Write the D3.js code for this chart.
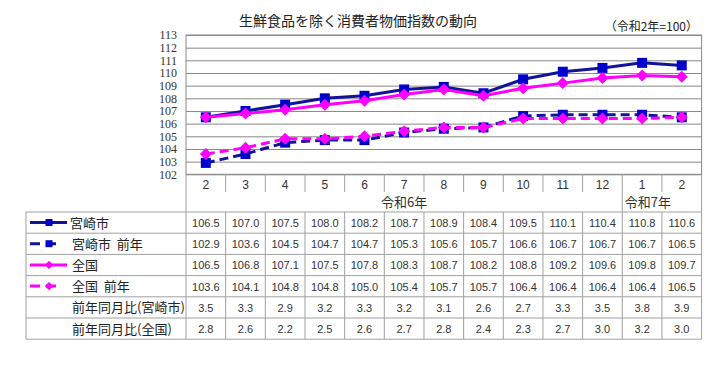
<!DOCTYPE html>
<html>
<head>
<meta charset="utf-8">
<script src="https://cdn.jsdelivr.net/npm/d3@7"></script>
<style>
  body { margin: 0; background: #fff; }
  text { font-family: "Liberation Sans", "Noto Sans CJK JP", sans-serif; fill: #333; }
  .jp { font-family: "Noto Sans CJK JP", sans-serif; }
  .yaxis text { font-family: "Liberation Serif", serif; font-size: 12px; fill: #333; }
</style>
</head>
<body>
<div id="chart"></div>
<script>
// data
const title = '生鮮食品を除く消費者物価指数の動向';
const baseNote = '（令和2年=100）';
const months = ['2', '3', '4', '5', '6', '7', '8', '9', '10', '11', '12', '1', '2'];
const yearLabels = ['令和6年', '令和7年'];
const yearSpans = [11, 2];

const miyazaki = [106.5, 107.0, 107.5, 108.0, 108.2, 108.7, 108.9, 108.4, 109.5, 110.1, 110.4, 110.8, 110.6];
const miyazakiPrev = [102.9, 103.6, 104.5, 104.7, 104.7, 105.3, 105.6, 105.7, 106.6, 106.7, 106.7, 106.7, 106.5];
const zenkoku = [106.5, 106.8, 107.1, 107.5, 107.8, 108.3, 108.7, 108.2, 108.8, 109.2, 109.6, 109.8, 109.7];
const zenkokuPrev = [103.6, 104.1, 104.8, 104.8, 105.0, 105.4, 105.7, 105.7, 106.4, 106.4, 106.4, 106.4, 106.5];
const yoyMiyazaki = [3.5, 3.3, 2.9, 3.2, 3.3, 3.2, 3.1, 2.6, 2.7, 3.3, 3.5, 3.8, 3.9];
const yoyZenkoku = [2.8, 2.6, 2.2, 2.5, 2.6, 2.7, 2.8, 2.4, 2.3, 2.7, 3.0, 3.2, 3.0];

const seriesNames = ['宮崎市', '宮崎市  前年', '全国', '全国  前年'];
const yoyNames = ['前年同月比(宮崎市)', '前年同月比(全国)'];

// layout
const width = 717, height = 365;
const plotLeft = 186, plotRight = 701.6, plotTop = 35, plotBottom = 174.3;
const tableLeft = 26, tableTop = 212, rowH = 21.2;

const BLUE_LINE = '#12129a', BLUE_MARK = '#0000cc', MAGENTA = '#ff00ff';
const GRID = '#888', TABLE_LINE = '#a0a0a0';

const seriesData = [miyazaki, miyazakiPrev, zenkoku, zenkokuPrev];
const seriesStyle = [
  {line: BLUE_LINE, mark: BLUE_MARK, shape: 'square', dash: null},
  {line: BLUE_LINE, mark: BLUE_MARK, shape: 'square', dash: '9,5'},
  {line: MAGENTA, mark: MAGENTA, shape: 'diamond', dash: null},
  {line: MAGENTA, mark: MAGENTA, shape: 'diamond', dash: '9,5'}
];

const x = d3.scaleBand().domain(d3.range(months.length)).range([plotLeft, plotRight]);
const cx = i => x(i) + x.bandwidth() / 2;
const y = d3.scaleLinear().domain([102, 113]).range([plotBottom, plotTop]);

const svg = d3.select('#chart').append('svg')
  .attr('width', width)
  .attr('height', height)
  .style('background', '#fff');

// title
svg.append('text')
  .attr('class', 'jp')
  .attr('x', 358).attr('y', 26)
  .attr('text-anchor', 'middle')
  .style('font-size', '14px')
  .style('fill', '#222')
  .text(title);

svg.append('text')
  .attr('class', 'jp')
  .attr('x', 698).attr('y', 31)
  .attr('text-anchor', 'end')
  .style('font-size', '12px')
  .style('fill', '#222')
  .text(baseNote);

// y axis + gridlines
const yAxis = svg.append('g')
  .attr('class', 'yaxis')
  .attr('transform', `translate(${plotLeft},0)`)
  .call(d3.axisLeft(y).ticks(11).tickFormat(d3.format('d'))
    .tickSizeInner(-(plotRight - plotLeft)).tickSizeOuter(0).tickPadding(9));
yAxis.select('.domain').remove();
yAxis.selectAll('.tick line').attr('stroke', GRID);

// plot frame
svg.append('rect')
  .attr('x', plotLeft).attr('y', plotTop)
  .attr('width', plotRight - plotLeft).attr('height', plotBottom - plotTop)
  .attr('fill', 'none').attr('stroke', GRID);

// lines and markers
function markerPath(shape, s) {
  if (shape === 'square') return `M${-s},${-s}H${s}V${s}H${-s}Z`;
  return `M0,${-s * 1.2}L${s * 1.2},0L0,${s * 1.2}L${-s * 1.2},0Z`;
}

const line = d3.line().x((d, i) => cx(i)).y(d => y(d));
const series = svg.append('g').selectAll('g.series')
  .data(seriesData)
  .join('g')
  .classed('series', true);

series.append('path')
  .attr('d', d => line(d))
  .attr('fill', 'none')
  .attr('stroke', (d, i) => seriesStyle[i].line)
  .attr('stroke-width', 3)
  .attr('stroke-dasharray', (d, i) => seriesStyle[i].dash);

series.each(function (vals, si) {
  d3.select(this).selectAll('path.mark')
    .data(vals)
    .join('path')
    .classed('mark', true)
    .attr('transform', (d, i) => `translate(${cx(i)},${y(d)})`)
    .attr('d', markerPath(seriesStyle[si].shape, 5))
    .attr('fill', seriesStyle[si].mark);
});

// category header under plot
const header = svg.append('g');
header.selectAll('text.month')
  .data(months)
  .join('text')
  .classed('month', true)
  .attr('x', (d, i) => cx(i))
  .attr('y', 189)
  .attr('text-anchor', 'middle')
  .style('font-size', '12px')
  .text(d => d);

const yearStarts = yearSpans.map((s, i) => d3.sum(yearSpans.slice(0, i)));
header.selectAll('line.sep')
  .data(d3.range(1, months.length))
  .join('line')
  .classed('sep', true)
  .attr('x1', i => x(i)).attr('x2', i => x(i))
  .attr('y1', plotBottom)
  .attr('y2', i => yearStarts.includes(i) ? tableTop : 192)
  .attr('stroke', TABLE_LINE);

header.selectAll('text.year')
  .data(yearLabels)
  .join('text')
  .classed('year jp', true)
  .attr('x', (d, i) => {
    const a = x(yearStarts[i]), b = x(yearStarts[i] + yearSpans[i] - 1) + x.bandwidth();
    return (a + b) / 2 - (i === yearLabels.length - 1 ? 14 : 0);
  })
  .attr('y', 207)
  .attr('text-anchor', 'middle')
  .style('font-size', '13px')
  .text(d => d);

// data table
const rows = seriesData.concat([yoyMiyazaki, yoyZenkoku]);
const rowNames = seriesNames.concat(yoyNames);
const tableBottom = tableTop + rows.length * rowH;
const table = svg.append('g');
const fmt = d3.format('.1f');

table.selectAll('line.h')
  .data(d3.range(rows.length + 1))
  .join('line')
  .attr('x1', tableLeft).attr('x2', plotRight)
  .attr('y1', r => tableTop + r * rowH).attr('y2', r => tableTop + r * rowH)
  .attr('stroke', TABLE_LINE);

table.selectAll('line.v')
  .data(d3.range(months.length + 1))
  .join('line')
  .attr('x1', i => i < months.length ? x(i) : plotRight)
  .attr('x2', i => i < months.length ? x(i) : plotRight)
  .attr('y1', tableTop).attr('y2', tableBottom)
  .attr('stroke', TABLE_LINE);

// left borders
svg.append('line')
  .attr('x1', tableLeft).attr('x2', tableLeft)
  .attr('y1', tableTop).attr('y2', tableBottom)
  .attr('stroke', TABLE_LINE);
svg.append('line')
  .attr('x1', plotLeft).attr('x2', plotLeft)
  .attr('y1', plotBottom).attr('y2', tableTop)
  .attr('stroke', TABLE_LINE);
svg.append('line')
  .attr('x1', plotRight).attr('x2', plotRight)
  .attr('y1', plotBottom).attr('y2', tableTop)
  .attr('stroke', TABLE_LINE);

const tr = table.selectAll('g.row')
  .data(rows)
  .join('g')
  .classed('row', true)
  .attr('transform', (d, r) => `translate(0,${tableTop + r * rowH})`);

tr.selectAll('text.val')
  .data(d => d)
  .join('text')
  .classed('val', true)
  .attr('x', (d, i) => cx(i))
  .attr('y', 15)
  .attr('text-anchor', 'middle')
  .style('font-size', '11px')
  .text(d => fmt(d));

tr.append('text')
  .attr('class', 'jp')
  .attr('x', (d, r) => r === 0 ? 70 : 72)
  .attr('y', 15.5)
  .style('font-size', '13px')
  .style('white-space', 'pre')
  .style('fill', '#222')
  .text((d, r) => rowNames[r]);

// legend keys
tr.filter((d, r) => r < seriesStyle.length).each(function (d, r) {
  const st = seriesStyle[r];
  const g = d3.select(this);
  const end = st.dash ? 59 : 67;
  g.append('line')
    .attr('x1', 30).attr('x2', end)
    .attr('y1', 10.5).attr('y2', 10.5)
    .attr('stroke', st.line)
    .attr('stroke-width', 3)
    .attr('stroke-dasharray', st.dash ? '10,6' : null);
  g.append('path')
    .attr('transform', `translate(49,10.5)`)
    .attr('d', markerPath(st.shape, 3.5))
    .attr('fill', st.mark);
});
</script>
</body>
</html>
